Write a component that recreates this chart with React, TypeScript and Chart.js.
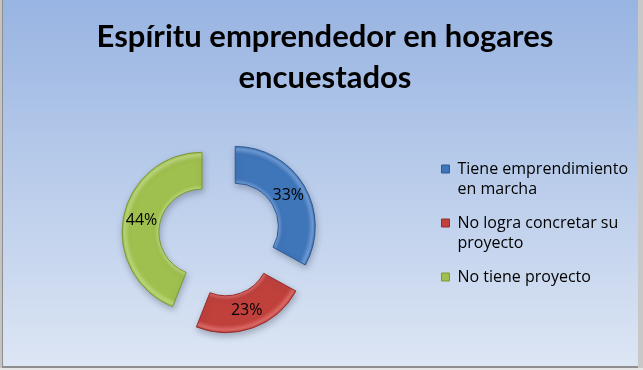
import React, { useEffect, useRef } from 'react';
import { Chart, registerables } from 'chart.js';

Chart.register(...registerables);

const TITLE_LINES = ['Espíritu emprendedor en hogares', 'encuestados'];
const CATEGORIES = [
  ['Tiene emprendimiento', 'en marcha'],
  ['No logra concretar su', 'proyecto'],
  ['No tiene proyecto'],
];
const VALUES = [33, 23, 44];
const COLORS = ['#3f75b9', '#c0403c', '#9fbf4e'];
const LIGHT_COLORS = ['#6e9bd6', '#dc6a66', '#bcd878'];
const DARK_COLORS = ['#2c5a94', '#962e2b', '#7b9936'];

const EXPLODE = 18;
const RADIUS = 80;
const CUTOUT = 0.54;

const backgroundPlugin = {
  id: 'bgPlugin',
  beforeDraw(chart: any) {
    const { ctx, width, height } = chart;
    ctx.save();
    const g = ctx.createLinearGradient(0, 0, 0, height);
    g.addColorStop(0, '#98b4e2');
    g.addColorStop(1, '#dde6f4');
    ctx.fillStyle = g;
    ctx.fillRect(0, 0, width, height);
    ctx.restore();
  },
  afterDraw(chart: any) {
    const { ctx, width, height } = chart;
    ctx.save();
    ctx.fillStyle = '#c4c4c4';
    ctx.fillRect(0, 0, 2, height);
    ctx.fillStyle = '#8e8e8e';
    ctx.fillRect(2, 0, 1, height - 3);
    ctx.fillStyle = '#c8c8c8';
    ctx.fillRect(width - 5, 0, 5, height);
    ctx.fillStyle = '#8e8e8e';
    ctx.fillRect(2, height - 4, width - 7, 2);
    ctx.fillStyle = '#e6e6e6';
    ctx.fillRect(0, height - 2, width, 2);
    ctx.restore();
  },
};

function sliceGradient(context: any) {
  const chart = context.chart;
  const i = context.dataIndex;
  const area = chart.chartArea;
  if (!area || i === undefined) return COLORS[i ?? 0];
  const total = VALUES.reduce((a, b) => a + b, 0);
  let before = 0;
  for (let k = 0; k < i; k++) before += VALUES[k];
  const start = -Math.PI / 2 + (before / total) * Math.PI * 2;
  const end = start + (VALUES[i] / total) * Math.PI * 2;
  const mid = (start + end) / 2;
  const cx = (area.left + area.right) / 2 + Math.cos(mid) * EXPLODE;
  const cy = (area.top + area.bottom) / 2 + Math.sin(mid) * EXPLODE;
  const inner = RADIUS * CUTOUT;
  const g = chart.ctx.createRadialGradient(cx, cy, inner, cx, cy, RADIUS);
  g.addColorStop(0, LIGHT_COLORS[i]);
  g.addColorStop(0.12, COLORS[i]);
  g.addColorStop(0.8, COLORS[i]);
  g.addColorStop(0.93, LIGHT_COLORS[i]);
  g.addColorStop(1, COLORS[i]);
  return g;
}

const explodePlugin = {
  id: 'explodePlugin',
  afterDatasetsUpdate(chart: any) {
    const meta = chart.getDatasetMeta(0);
    meta.data.forEach((arc: any) => {
      const mid = (arc.startAngle + arc.endAngle) / 2;
      arc.x += Math.cos(mid) * EXPLODE;
      arc.y += Math.sin(mid) * EXPLODE;
    });
  },
  beforeDatasetsDraw(chart: any) {
    const ctx = chart.ctx;
    ctx.save();
    ctx.shadowColor = 'rgba(60,70,90,0.35)';
    ctx.shadowBlur = 6;
    ctx.shadowOffsetX = 1;
    ctx.shadowOffsetY = 3;
  },
  afterDatasetsDraw(chart: any) {
    const ctx = chart.ctx;
    ctx.restore();
    const meta = chart.getDatasetMeta(0);
    const total = VALUES.reduce((a, b) => a + b, 0);
    ctx.save();
    ctx.font = '16px "Open Sans"';
    ctx.fillStyle = '#000';
    ctx.textAlign = 'center';
    ctx.textBaseline = 'middle';
    meta.data.forEach((arc: any, i: number) => {
      const mid = (arc.startAngle + arc.endAngle) / 2;
      const r = (arc.innerRadius + arc.outerRadius) / 2;
      const x = arc.x + Math.cos(mid) * r;
      const y = arc.y + Math.sin(mid) * r;
      ctx.fillText(`${Math.round((VALUES[i] / total) * 100)}%`, x, y);
    });
    ctx.restore();
  },
};

export default function App() {
  const ref = useRef<HTMLCanvasElement>(null);
  useEffect(() => {
    document.body.style.margin = '0';
    const chart = new Chart(ref.current as HTMLCanvasElement, {
      type: 'doughnut',
      data: {
        labels: CATEGORIES as any,
        datasets: [
          {
            data: VALUES,
            backgroundColor: sliceGradient,
            borderColor: DARK_COLORS,
            borderWidth: 1,
          },
        ],
      },
      options: {
        animation: false,
        responsive: true,
        maintainAspectRatio: false,
        events: [],
        radius: RADIUS,
        cutout: `${CUTOUT * 100}%`,
        layout: { padding: { left: 12, right: 5, top: 0, bottom: 6 } },
        plugins: {
          title: {
            display: true,
            text: TITLE_LINES,
            color: '#000',
            font: { family: 'Lato', size: 31, weight: 'bold', lineHeight: 1.31 },
            padding: { top: 17, bottom: 9 },
          },
          legend: {
            position: 'right',
            align: 'start',
            title: { display: true, text: '', padding: 68, font: { size: 11, lineHeight: 1 } },
            labels: {
              color: '#000',
              boxWidth: 8,
              boxHeight: 8,
              padding: 14,
              font: { family: '"Open Sans"', size: 16, lineHeight: 1.25 },
              generateLabels: (chart: any) => {
                const base = (Chart as any).overrides.doughnut.plugins.legend.labels.generateLabels(chart);
                return base.map((item: any, i: number) => ({ ...item, fillStyle: COLORS[i] }));
              },
            },
          },
          tooltip: { enabled: false },
        },
      } as any,
      plugins: [backgroundPlugin, explodePlugin],
    });
    return () => chart.destroy();
  }, []);
  return (
    <div style={{ position: 'absolute', left: 0, top: 0, width: 643, height: 370 }}>
      <canvas ref={ref} />
    </div>
  );
}
